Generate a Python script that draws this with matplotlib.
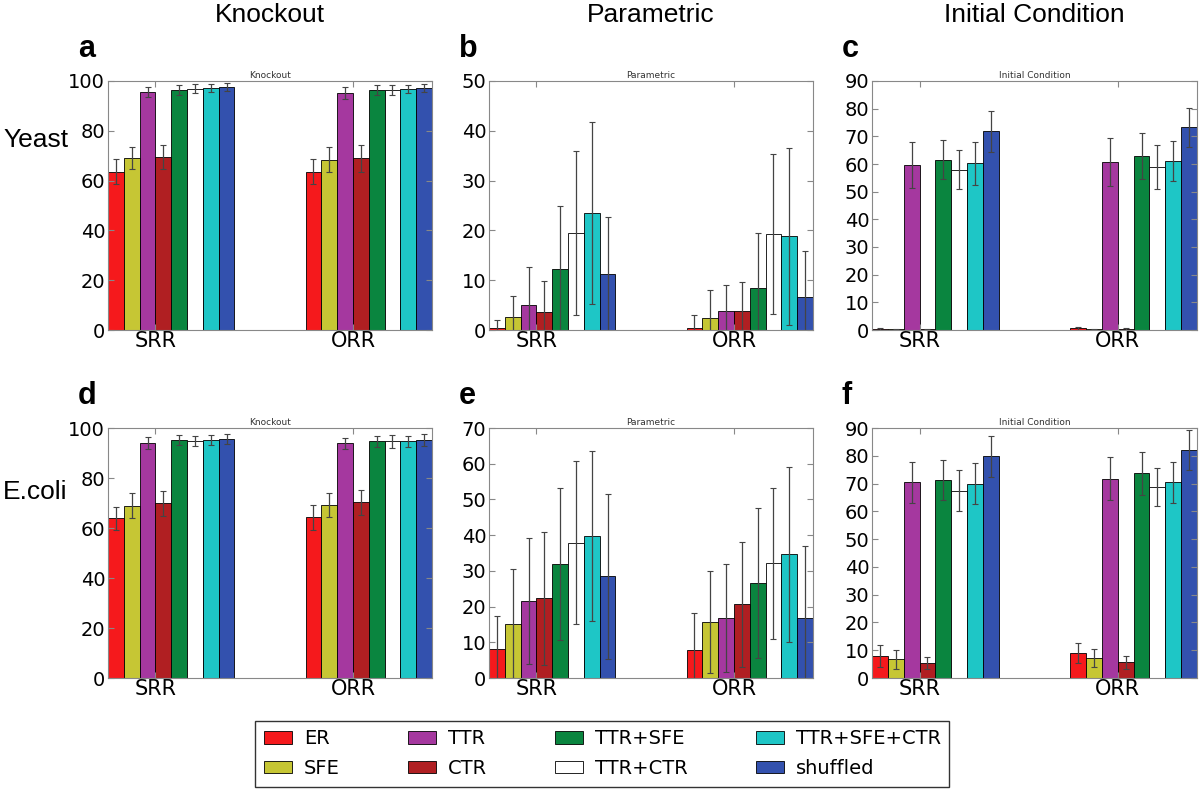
import numpy as np
import matplotlib
matplotlib.use('Agg')
import matplotlib.pyplot as plt

# 方法和分组
methods = ['ER', 'SFE', 'TTR', 'CTR', 'TTR+SFE', 'TTR+CTR', 'TTR+SFE+CTR', 'shuffled']
groups = ['SRR', 'ORR']
colors = ['#f5191c', '#c6c634', '#a5389f', '#b01f22', '#0a853f', '#ffffff', '#1ec6c6', '#3351ae']

# Yeast
yeast_ko_srr = [63.5, 69.0, 95.7, 69.3, 96.5, 96.8, 97.3, 97.5]
yeast_ko_srr_err = [5.0, 4.5, 2.0, 4.8, 2.0, 1.8, 1.6, 1.5]
yeast_ko_orr = [63.6, 68.4, 95.2, 68.9, 96.3, 96.5, 96.7, 97.0]
yeast_ko_orr_err = [5.0, 5.0, 2.3, 5.5, 2.0, 2.0, 1.7, 1.6]

yeast_par_srr = [0.5, 2.7, 5.1, 3.7, 12.2, 19.5, 23.5, 11.2]
yeast_par_srr_err = [1.5, 4.2, 7.6, 6.2, 12.7, 16.4, 18.3, 11.5]
yeast_par_orr = [0.5, 2.4, 3.8, 3.8, 8.4, 19.3, 18.8, 6.7]
yeast_par_orr_err = [2.5, 5.6, 5.2, 5.9, 11.1, 16.1, 17.8, 9.1]

yeast_ic_srr = [0.4, 0.2, 59.7, 0.2, 61.6, 57.9, 60.2, 71.9]
yeast_ic_srr_err = [0.5, 0.3, 8.2, 0.3, 7.1, 7.0, 7.8, 7.4]
yeast_ic_orr = [0.6, 0.2, 60.7, 0.3, 62.8, 58.8, 61.0, 73.3]
yeast_ic_orr_err = [0.5, 0.3, 8.6, 0.3, 8.4, 7.9, 7.2, 7.0]

# E.coli
ecoli_ko_srr = [63.9, 68.9, 94.0, 70.0, 95.2, 94.7, 95.2, 95.7]
ecoli_ko_srr_err = [4.7, 5.0, 2.4, 5.0, 2.0, 2.0, 2.0, 2.0]
ecoli_ko_orr = [64.3, 69.3, 93.9, 70.3, 94.7, 94.7, 94.7, 95.2]
ecoli_ko_orr_err = [5.0, 4.7, 2.3, 5.0, 2.2, 2.5, 2.3, 2.3]

ecoli_par_srr = [8.0, 15.2, 21.5, 22.3, 32.0, 37.9, 39.8, 28.5]
ecoli_par_srr_err = [9.5, 15.3, 17.6, 18.6, 21.3, 22.9, 23.8, 23.1]
ecoli_par_orr = [7.8, 15.7, 16.8, 20.6, 26.6, 32.1, 34.6, 16.7]
ecoli_par_orr_err = [10.3, 14.2, 15.0, 17.5, 21.1, 21.2, 24.5, 20.3]

ecoli_ic_srr = [8.0, 6.8, 70.5, 5.4, 71.4, 67.5, 70.0, 79.8]
ecoli_ic_srr_err = [3.9, 3.4, 7.4, 2.3, 7.2, 7.5, 7.5, 7.5]
ecoli_ic_orr = [9.0, 7.2, 71.8, 5.6, 73.7, 68.7, 70.5, 82.2]
ecoli_ic_orr_err = [3.5, 3.2, 7.6, 2.4, 7.7, 6.9, 7.4, 7.2]

col_titles = ['Knockout', 'Parametric', 'Initial Condition']
row_titles = ['Yeast', 'E.coli']
letters = ['a', 'b', 'c', 'd', 'e', 'f']
ylims = [100, 50, 90, 100, 70, 90]
ysteps = [20, 10, 10, 20, 10, 10]

panels = [
    (yeast_ko_srr, yeast_ko_srr_err, yeast_ko_orr, yeast_ko_orr_err),
    (yeast_par_srr, yeast_par_srr_err, yeast_par_orr, yeast_par_orr_err),
    (yeast_ic_srr, yeast_ic_srr_err, yeast_ic_orr, yeast_ic_orr_err),
    (ecoli_ko_srr, ecoli_ko_srr_err, ecoli_ko_orr, ecoli_ko_orr_err),
    (ecoli_par_srr, ecoli_par_srr_err, ecoli_par_orr, ecoli_par_orr_err),
    (ecoli_ic_srr, ecoli_ic_srr_err, ecoli_ic_orr, ecoli_ic_orr_err),
]

fig = plt.figure(figsize=(12, 7.9), dpi=100)

# 面板位置（像素）
lefts = [108, 489, 872]
widths = [324, 324, 325]
tops = [81, 428]
heights = [249, 250]

ind = np.arange(len(groups))
w = 0.08
handles = []

for k, (srr, srr_err, orr, orr_err) in enumerate(panels):
    r, c = divmod(k, 3)
    ax = fig.add_axes([lefts[c] / 1200, 1 - (tops[r] + heights[r]) / 790,
                       widths[c] / 1200, heights[r] / 790])
    for i in range(len(methods)):
        b = ax.bar(ind + i * w, [srr[i], orr[i]], w, align='edge',
                   yerr=[srr_err[i], orr_err[i]], color=colors[i],
                   edgecolor='black', linewidth=0.6, label=methods[i],
                   error_kw=dict(ecolor='#444444', elinewidth=0.9, capsize=2, capthick=0.8))
        if k == 0:
            handles.append(b)
    ax.set_xlim(0, 1 + len(methods) * w)
    ax.set_ylim(0, ylims[k])
    ax.set_yticks(np.arange(0, ylims[k] + 1, ysteps[k]))
    ax.set_xticks(ind + 3 * w)
    ax.set_xticklabels(groups, fontsize=15)
    ax.tick_params(axis='y', labelsize=14, pad=2)
    ax.tick_params(axis='x', pad=1)
    ax.tick_params(direction='in', top=True, right=True, length=4, color='#888888')
    for s in ax.spines.values():
        s.set_color('#888888')
    ax.set_title(col_titles[c], fontsize=6.5, pad=2, color='#333333')

    # 面板字母
    fig.text((lefts[c] - 30) / 1200, 1 - (tops[r] - 32) / 790, letters[k],
             fontsize=22, fontweight='bold', family='Liberation Sans', va='center')

# 列标题和行标题
for c in range(3):
    fig.text((lefts[c] + widths[c] / 2) / 1200, 1 - 15 / 790, col_titles[c],
             fontsize=19, family='Liberation Sans', ha='center', va='center')
fig.text(3 / 1200, 1 - 140 / 790, row_titles[0], fontsize=19, family='Liberation Sans', va='center')
fig.text(3 / 1200, 1 - 492 / 790, row_titles[1], fontsize=19, family='Liberation Sans', va='center')

leg = fig.legend(handles, methods, ncol=4, loc='lower center', bbox_to_anchor=(0.502, 0.004),
                 borderaxespad=0, fontsize=14, fancybox=False, edgecolor='black',
                 handlelength=1.45, handleheight=0.6, columnspacing=3.5, borderpad=0.45,
                 labelspacing=0.55, handletextpad=0.6)
leg.get_frame().set_linewidth(1.0)

fig.savefig('out.png', dpi=100)
